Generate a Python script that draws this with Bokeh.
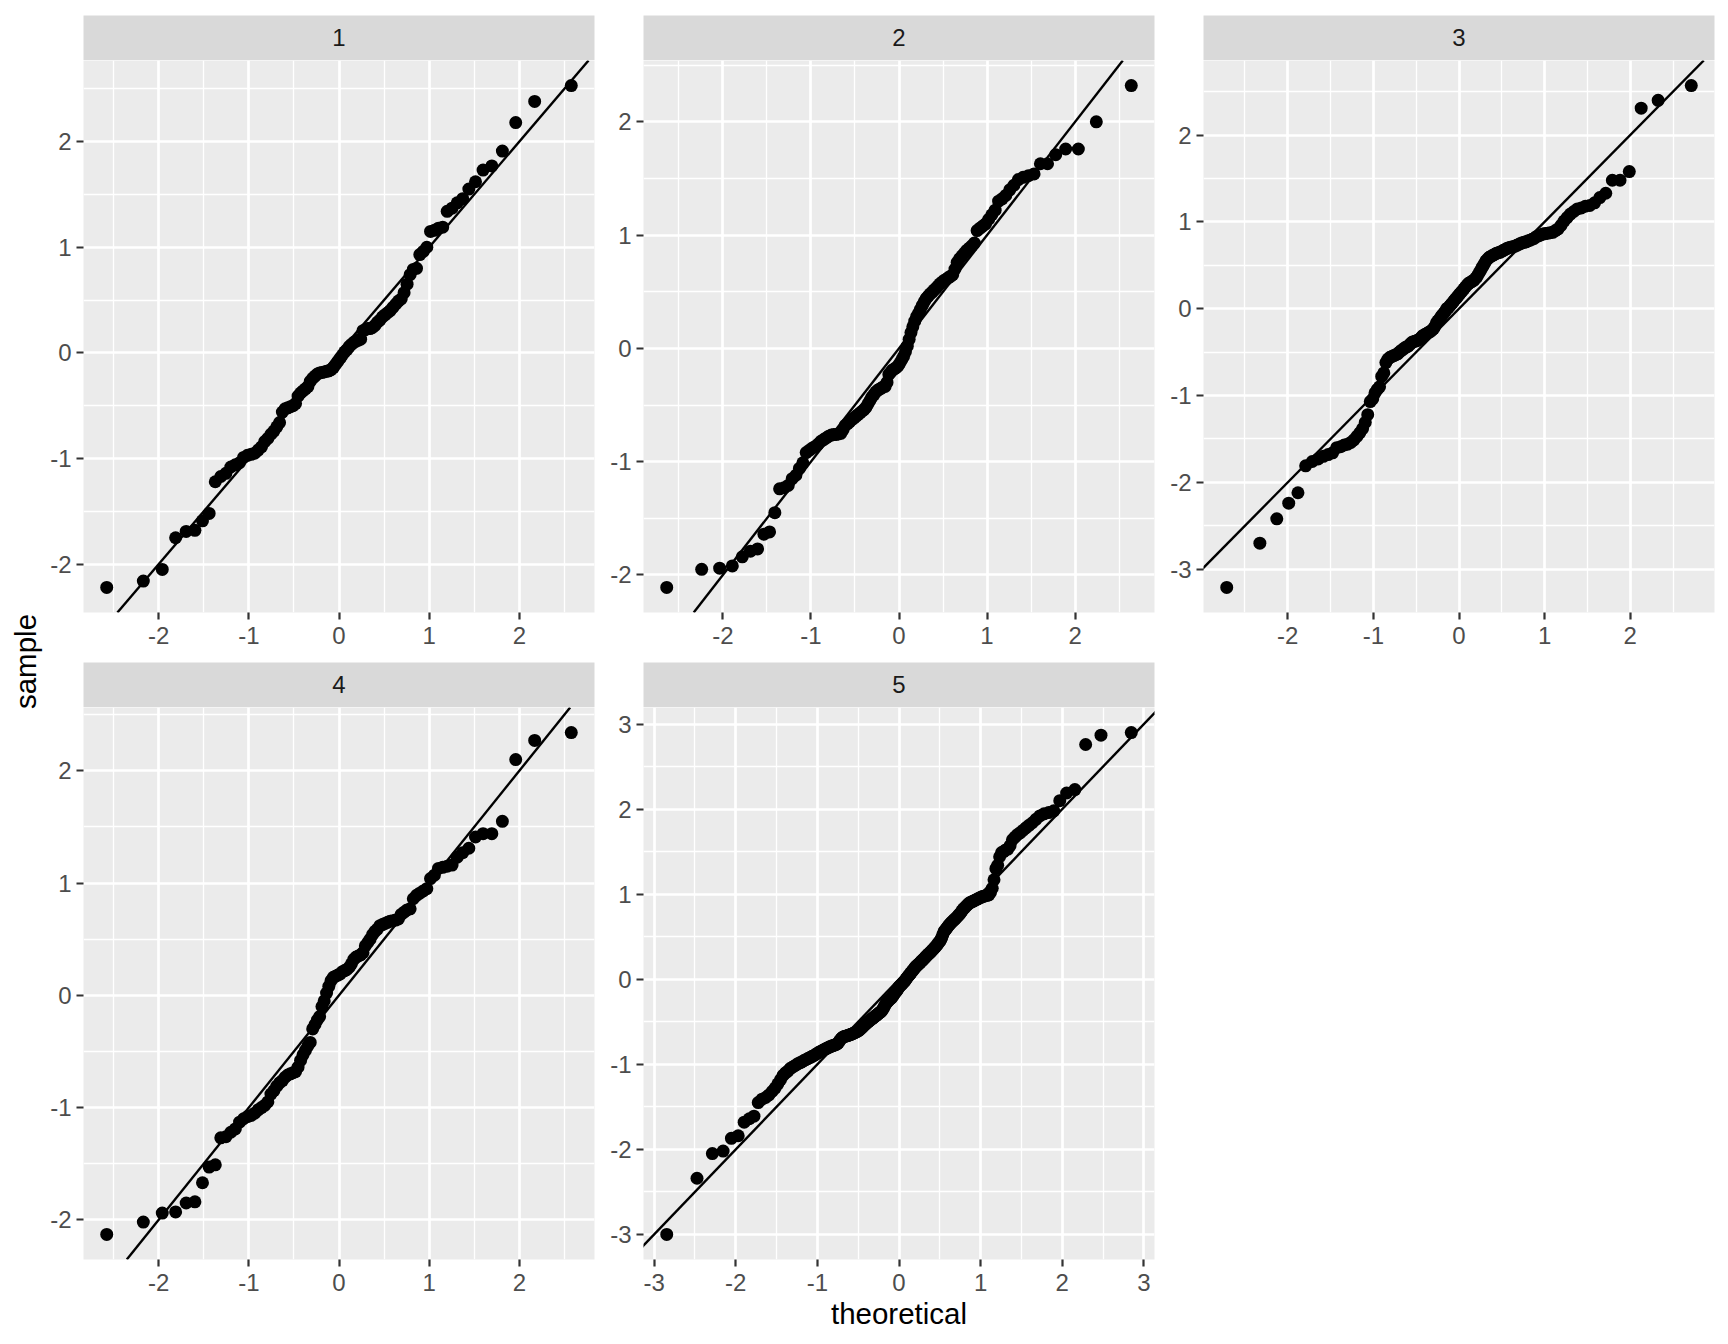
import math
from bokeh.plotting import figure
from bokeh.models import Range1d, FixedTicker, Slope
from bokeh.layouts import row, column
from bokeh.embed import file_html
from bokeh.resources import INLINE
from bokeh.core.properties import value

# ---------------- data ----------------
strip_labels = ["1", "2", "3", "4", "5"]
y_title = "sample"
x_title = "theoretical"

# reference line of each facet (slope, intercept)
qq_slope = [1.0, 1.0, 1.0, 1.0, 1.0]
qq_intercept = [0.0, 0.0, 0.0, 0.0, 0.0]

theo_1 = [-2.576, -2.170, -1.960, -1.812, -1.695, -1.598, -1.514, -1.440, -1.372, -1.311,
          -1.254, -1.200, -1.150, -1.103, -1.058, -1.015, -0.974, -0.935, -0.896, -0.860,
          -0.824, -0.789, -0.755, -0.722, -0.690, -0.659, -0.628, -0.598, -0.568, -0.539,
          -0.510, -0.482, -0.454, -0.426, -0.399, -0.372, -0.345, -0.319, -0.292, -0.266,
          -0.240, -0.215, -0.189, -0.164, -0.138, -0.113, -0.088, -0.063, -0.038, -0.013,
          0.013, 0.038, 0.063, 0.088, 0.113, 0.138, 0.164, 0.189, 0.215, 0.240,
          0.266, 0.292, 0.319, 0.345, 0.372, 0.399, 0.426, 0.454, 0.482, 0.510,
          0.539, 0.568, 0.598, 0.628, 0.659, 0.690, 0.722, 0.755, 0.789, 0.824,
          0.860, 0.896, 0.935, 0.974, 1.015, 1.058, 1.103, 1.150, 1.200, 1.254,
          1.311, 1.372, 1.440, 1.514, 1.598, 1.695, 1.812, 1.960, 2.170, 2.576]
sample_1 = [-2.22, -2.16, -2.05, -1.75, -1.69, -1.68, -1.59, -1.52, -1.22, -1.17,
            -1.14, -1.08, -1.06, -1.04, -0.99, -0.97, -0.96, -0.95, -0.92, -0.89,
            -0.84, -0.81, -0.77, -0.74, -0.70, -0.66, -0.56, -0.53, -0.52, -0.51,
            -0.50, -0.48, -0.41, -0.38, -0.36, -0.34, -0.32, -0.27, -0.24, -0.22,
            -0.20, -0.19, -0.185, -0.18, -0.175, -0.17, -0.16, -0.14, -0.11, -0.08,
            -0.05, -0.02, 0.01, 0.03, 0.06, 0.08, 0.10, 0.11, 0.12, 0.13,
            0.21, 0.22, 0.23, 0.23, 0.24, 0.26, 0.29, 0.31, 0.34, 0.36,
            0.38, 0.40, 0.43, 0.46, 0.49, 0.51, 0.57, 0.65, 0.74, 0.79,
            0.80, 0.93, 0.96, 1.00, 1.15, 1.16, 1.18, 1.19, 1.34, 1.37,
            1.42, 1.46, 1.55, 1.62, 1.73, 1.77, 1.91, 2.18, 2.38, 2.53]

theo_2 = [-2.638, -2.241, -2.037, -1.893, -1.780, -1.687, -1.606, -1.534, -1.470, -1.410,
          -1.356, -1.305, -1.258, -1.213, -1.171, -1.131, -1.092, -1.054, -1.019, -0.984,
          -0.951, -0.918, -0.887, -0.856, -0.827, -0.798, -0.769, -0.741, -0.714, -0.687,
          -0.661, -0.636, -0.610, -0.585, -0.561, -0.536, -0.512, -0.489, -0.466, -0.442,
          -0.420, -0.397, -0.375, -0.352, -0.330, -0.308, -0.286, -0.265, -0.243, -0.222,
          -0.200, -0.179, -0.157, -0.136, -0.115, -0.094, -0.073, -0.052, -0.031, -0.010,
          0.010, 0.031, 0.052, 0.073, 0.094, 0.115, 0.136, 0.157, 0.179, 0.200,
          0.222, 0.243, 0.265, 0.286, 0.308, 0.330, 0.352, 0.375, 0.397, 0.420,
          0.442, 0.466, 0.489, 0.512, 0.536, 0.561, 0.585, 0.610, 0.636, 0.661,
          0.687, 0.714, 0.741, 0.769, 0.798, 0.827, 0.856, 0.887, 0.918, 0.951,
          0.984, 1.019, 1.054, 1.092, 1.131, 1.171, 1.213, 1.258, 1.305, 1.356,
          1.410, 1.470, 1.534, 1.606, 1.687, 1.780, 1.893, 2.037, 2.241, 2.638]
sample_2 = [-2.11, -1.95, -1.94, -1.92, -1.84, -1.79, -1.77, -1.64, -1.62, -1.45,
            -1.24, -1.23, -1.21, -1.15, -1.12, -1.06, -1.01, -0.92, -0.90, -0.88,
            -0.865, -0.845, -0.82, -0.805, -0.79, -0.775, -0.765, -0.76, -0.76, -0.755,
            -0.75, -0.72, -0.68, -0.665, -0.65, -0.63, -0.615, -0.60, -0.585, -0.57,
            -0.555, -0.54, -0.52, -0.49, -0.46, -0.43, -0.41, -0.385, -0.37, -0.36,
            -0.35, -0.34, -0.335, -0.30, -0.23, -0.21, -0.19, -0.18, -0.17, -0.155,
            -0.13, -0.10, -0.07, -0.03, 0.02, 0.08, 0.14, 0.19, 0.24, 0.28,
            0.31, 0.345, 0.38, 0.41, 0.44, 0.46, 0.48, 0.495, 0.515, 0.53,
            0.55, 0.57, 0.585, 0.60, 0.61, 0.625, 0.635, 0.65, 0.70, 0.76,
            0.79, 0.815, 0.84, 0.865, 0.885, 0.905, 0.93, 1.04, 1.06, 1.08,
            1.10, 1.14, 1.18, 1.22, 1.30, 1.32, 1.35, 1.40, 1.44, 1.49,
            1.51, 1.525, 1.54, 1.63, 1.63, 1.71, 1.76, 1.76, 2.00, 2.32]

theo_3 = [-2.713, -2.326, -2.128, -1.989, -1.881, -1.791, -1.714, -1.645, -1.584, -1.528,
          -1.476, -1.428, -1.383, -1.341, -1.301, -1.263, -1.227, -1.192, -1.159, -1.126,
          -1.095, -1.066, -1.036, -1.008, -0.981, -0.954, -0.928, -0.903, -0.878, -0.854,
          -0.830, -0.806, -0.783, -0.761, -0.739, -0.717, -0.696, -0.674, -0.654, -0.633,
          -0.613, -0.593, -0.573, -0.553, -0.534, -0.515, -0.496, -0.477, -0.459, -0.440,
          -0.422, -0.404, -0.385, -0.367, -0.350, -0.332, -0.314, -0.297, -0.279, -0.262,
          -0.245, -0.228, -0.210, -0.193, -0.176, -0.160, -0.143, -0.126, -0.109, -0.092,
          -0.075, -0.059, -0.042, -0.025, -0.008,
          0.008, 0.025, 0.042, 0.059, 0.075, 0.092, 0.109, 0.126, 0.143, 0.160,
          0.176, 0.193, 0.210, 0.228, 0.245, 0.262, 0.279, 0.297, 0.314, 0.332,
          0.350, 0.367, 0.385, 0.404, 0.422, 0.440, 0.459, 0.477, 0.496, 0.515,
          0.534, 0.553, 0.573, 0.593, 0.613, 0.633, 0.654, 0.674, 0.696, 0.717,
          0.739, 0.761, 0.783, 0.806, 0.830, 0.854, 0.878, 0.903, 0.928, 0.954,
          0.981, 1.008, 1.036, 1.066, 1.095, 1.126, 1.159, 1.192, 1.227, 1.263,
          1.301, 1.341, 1.383, 1.428, 1.476, 1.528, 1.584, 1.645, 1.714, 1.791,
          1.881, 1.989, 2.128, 2.326, 2.713]
sample_3 = [-3.21, -2.70, -2.42, -2.24, -2.12, -1.81, -1.76, -1.73, -1.70, -1.68,
            -1.66, -1.60, -1.59, -1.57, -1.56, -1.54, -1.51, -1.47, -1.43, -1.38,
            -1.31, -1.22, -1.07, -1.04, -0.97, -0.93, -0.90, -0.78, -0.74, -0.62,
            -0.58, -0.56, -0.55, -0.54, -0.53, -0.52, -0.50, -0.48, -0.47, -0.45,
            -0.44, -0.43, -0.41, -0.39, -0.38, -0.375, -0.37, -0.36, -0.35, -0.33,
            -0.31, -0.30, -0.29, -0.28, -0.27, -0.26, -0.245, -0.23, -0.20, -0.16,
            -0.14, -0.12, -0.09, -0.07, -0.05, -0.03, 0.00, 0.01, 0.03, 0.05,
            0.07, 0.09, 0.11, 0.13, 0.15, 0.17, 0.19, 0.21, 0.23, 0.25,
            0.27, 0.29, 0.30, 0.31, 0.32, 0.33, 0.35, 0.37, 0.40, 0.43,
            0.46, 0.49, 0.52, 0.55, 0.57, 0.59, 0.60, 0.61, 0.62, 0.63,
            0.64, 0.645, 0.65, 0.66, 0.67, 0.68, 0.69, 0.70, 0.705, 0.71,
            0.715, 0.72, 0.73, 0.74, 0.75, 0.76, 0.765, 0.77, 0.78, 0.79,
            0.80, 0.81, 0.83, 0.84, 0.85, 0.86, 0.865, 0.87, 0.875, 0.88,
            0.90, 0.92, 0.96, 1.01, 1.05, 1.09, 1.12, 1.15, 1.16, 1.18,
            1.19, 1.22, 1.28, 1.33, 1.48, 1.48, 1.58, 2.31, 2.40, 2.57]

theo_4 = [-2.576, -2.170, -1.960, -1.812, -1.695, -1.598, -1.514, -1.440, -1.372, -1.311,
          -1.254, -1.200, -1.150, -1.103, -1.058, -1.015, -0.974, -0.935, -0.896, -0.860,
          -0.824, -0.789, -0.755, -0.722, -0.690, -0.659, -0.628, -0.598, -0.568, -0.539,
          -0.510, -0.482, -0.454, -0.426, -0.399, -0.372, -0.345, -0.319, -0.292, -0.266,
          -0.240, -0.215, -0.189, -0.164, -0.138, -0.113, -0.088, -0.063, -0.038, -0.013,
          0.013, 0.038, 0.063, 0.088, 0.113, 0.138, 0.164, 0.189, 0.215, 0.240,
          0.266, 0.292, 0.319, 0.345, 0.372, 0.399, 0.426, 0.454, 0.482, 0.510,
          0.539, 0.568, 0.598, 0.628, 0.659, 0.690, 0.722, 0.755, 0.789, 0.824,
          0.860, 0.896, 0.935, 0.974, 1.015, 1.058, 1.103, 1.150, 1.200, 1.254,
          1.311, 1.372, 1.440, 1.514, 1.598, 1.695, 1.812, 1.960, 2.170, 2.576]
sample_4 = [-2.13, -2.02, -1.94, -1.93, -1.85, -1.84, -1.67, -1.53, -1.51, -1.27,
            -1.26, -1.22, -1.19, -1.13, -1.10, -1.08, -1.07, -1.05, -1.02, -1.00,
            -0.98, -0.95, -0.88, -0.85, -0.81, -0.78, -0.76, -0.73, -0.71, -0.70,
            -0.69, -0.68, -0.64, -0.58, -0.53, -0.49, -0.45, -0.42, -0.30, -0.26,
            -0.22, -0.19, -0.10, -0.05, 0.02, 0.08, 0.13, 0.16, 0.17, 0.18,
            0.19, 0.21, 0.22, 0.23, 0.25, 0.28, 0.32, 0.34, 0.35, 0.36,
            0.38, 0.44, 0.47, 0.50, 0.54, 0.57, 0.59, 0.62, 0.63, 0.64,
            0.65, 0.66, 0.665, 0.67, 0.68, 0.72, 0.74, 0.76, 0.77, 0.86,
            0.89, 0.91, 0.93, 0.95, 1.04, 1.07, 1.13, 1.14, 1.15, 1.16,
            1.23, 1.27, 1.31, 1.41, 1.44, 1.44, 1.55, 2.10, 2.27, 2.34]

theo_5 = [-2.846, -2.475, -2.287, -2.155, -2.054, -1.970, -1.897, -1.834, -1.777, -1.725,
          -1.678, -1.634, -1.593, -1.555, -1.518, -1.484, -1.451, -1.420, -1.390, -1.361,
          -1.334, -1.307, -1.282, -1.257, -1.233, -1.209, -1.187, -1.164, -1.142, -1.121,
          -1.101, -1.080, -1.060, -1.041, -1.022, -1.003, -0.985, -0.967, -0.950, -0.932,
          -0.915, -0.898, -0.882, -0.866, -0.850, -0.834, -0.818, -0.803, -0.787, -0.772,
          -0.757, -0.742, -0.728, -0.714, -0.699, -0.685, -0.671, -0.657, -0.643, -0.629,
          -0.616, -0.602, -0.589, -0.576, -0.563, -0.550, -0.537, -0.524, -0.511, -0.499,
          -0.486, -0.474, -0.461, -0.449, -0.437, -0.424, -0.412, -0.400, -0.388, -0.376,
          -0.365, -0.353, -0.341, -0.329, -0.318, -0.305, -0.294, -0.282, -0.271, -0.259,
          -0.248, -0.236, -0.225, -0.214, -0.202, -0.191, -0.180, -0.168, -0.157, -0.146,
          -0.134, -0.123, -0.112, -0.100, -0.089, -0.078, -0.067, -0.056, -0.045, -0.033,
          -0.022, -0.011, 0.000, 0.011, 0.022, 0.033, 0.045, 0.056, 0.067, 0.078,
          0.089, 0.100, 0.112, 0.123, 0.134, 0.146, 0.157, 0.168, 0.180, 0.191,
          0.202, 0.214, 0.225, 0.236, 0.248, 0.259, 0.271, 0.282, 0.294, 0.305,
          0.318, 0.329, 0.341, 0.353, 0.365, 0.376, 0.388, 0.400, 0.412, 0.424,
          0.437, 0.449, 0.461, 0.474, 0.486, 0.499, 0.511, 0.524, 0.537, 0.550,
          0.563, 0.576, 0.589, 0.602, 0.616, 0.629, 0.643, 0.657, 0.671, 0.685,
          0.699, 0.714, 0.728, 0.742, 0.757, 0.772, 0.787, 0.803, 0.818, 0.834,
          0.850, 0.866, 0.882, 0.898, 0.915, 0.932, 0.950, 0.967, 0.985, 1.003,
          1.022, 1.041, 1.060, 1.080, 1.101, 1.121, 1.142, 1.164, 1.187, 1.209,
          1.233, 1.257, 1.282, 1.307, 1.334, 1.361, 1.390, 1.420, 1.451, 1.484,
          1.518, 1.555, 1.593, 1.634, 1.678, 1.725, 1.777, 1.834, 1.897, 1.970,
          2.054, 2.155, 2.287, 2.475, 2.846]
sample_5 = [-3.00, -2.34, -2.05, -2.02, -1.87, -1.84, -1.68, -1.64, -1.61, -1.45,
            -1.41, -1.39, -1.36, -1.32, -1.28, -1.23, -1.18, -1.13, -1.10, -1.08,
            -1.05, -1.035, -1.02, -1.005, -0.99, -0.98, -0.97, -0.955, -0.945, -0.935,
            -0.925, -0.915, -0.905, -0.895, -0.885, -0.872, -0.862, -0.852, -0.845, -0.835,
            -0.826, -0.818, -0.81, -0.803, -0.795, -0.79, -0.783, -0.778, -0.772, -0.766,
            -0.76, -0.745, -0.725, -0.705, -0.69, -0.678, -0.674, -0.67, -0.666, -0.662,
            -0.658, -0.652, -0.648, -0.644, -0.638, -0.632, -0.626, -0.62, -0.612, -0.605,
            -0.598, -0.588, -0.576, -0.564, -0.552, -0.54, -0.528, -0.518, -0.508, -0.50,
            -0.49, -0.48, -0.472, -0.463, -0.454, -0.445, -0.436, -0.427, -0.418, -0.41,
            -0.40, -0.392, -0.383, -0.374, -0.36, -0.34, -0.32, -0.30, -0.28, -0.27,
            -0.255, -0.245, -0.235, -0.225, -0.215, -0.20, -0.185, -0.17, -0.155, -0.14,
            -0.125, -0.11, -0.09, -0.08, -0.07, -0.06, -0.045, -0.035, -0.025, -0.01,
            0.005, 0.02, 0.035, 0.048, 0.06, 0.075, 0.09, 0.10, 0.115, 0.13,
            0.145, 0.155, 0.165, 0.175, 0.185, 0.195, 0.21, 0.22, 0.23, 0.24,
            0.255, 0.265, 0.277, 0.289, 0.30, 0.31, 0.32, 0.333, 0.345, 0.357,
            0.37, 0.382, 0.398, 0.413, 0.43, 0.445, 0.462, 0.49, 0.525, 0.556,
            0.575, 0.59, 0.605, 0.625, 0.64, 0.655, 0.668, 0.682, 0.695, 0.708,
            0.72, 0.735, 0.75, 0.765, 0.785, 0.805, 0.825, 0.84, 0.855, 0.87,
            0.887, 0.898, 0.905, 0.913, 0.92, 0.93, 0.938, 0.946, 0.955, 0.963,
            0.972, 0.977, 0.982, 0.987, 0.992, 1.02, 1.07, 1.17, 1.30, 1.34,
            1.44, 1.49, 1.50, 1.52, 1.53, 1.57, 1.64, 1.67, 1.70, 1.72,
            1.75, 1.78, 1.81, 1.84, 1.88, 1.92, 1.945, 1.96, 1.98, 2.10,
            2.19, 2.23, 2.76, 2.87, 2.90]

theo_all = [theo_1, theo_2, theo_3, theo_4, theo_5]
sample_all = [sample_1, sample_2, sample_3, sample_4, sample_5]

# ---------------- styling ----------------
FONT = "Liberation Sans"
PANEL_BG = "#EBEBEB"
STRIP_BG = "#D9D9D9"
TICK_TEXT = "#4D4D4D"
TICK_LINE = "#333333"
FRAME_W = 511
FRAME_H = 552
STRIP_H = 45
TOP_B = 15
MID_B = 50
BOT_B = 80
LABEL_W = 47


def expand(vals):
    lo, hi = min(vals), max(vals)
    pad = 0.05 * (hi - lo)
    return lo - pad, hi + pad


def ticks_for(lo, hi):
    major = list(range(math.ceil(lo), math.floor(hi) + 1))
    minor = [k + 0.5 for k in range(math.floor(lo) - 1, math.ceil(hi) + 1)
             if lo <= k + 0.5 <= hi]
    return major, minor


def style_axis(ax, major, minor, standoff):
    ax.ticker = FixedTicker(ticks=major, minor_ticks=minor)
    ax.major_label_overrides = {t: str(t) for t in major}
    ax.axis_line_color = None
    ax.major_tick_line_color = TICK_LINE
    ax.major_tick_line_width = 2.2
    ax.major_tick_out = 7
    ax.major_tick_in = 0
    ax.minor_tick_line_color = None
    ax.major_label_text_font = FONT
    ax.major_label_text_font_size = "24px"
    ax.major_label_text_color = TICK_TEXT
    ax.major_label_standoff = standoff


def make_strip(label, left_b, right_b, top_b):
    s = figure(frame_width=FRAME_W, frame_height=STRIP_H,
               x_range=Range1d(0, 1), y_range=Range1d(0, 1),
               x_axis_type=None, y_axis_type=None,
               output_backend="svg", toolbar_location=None, title=None,
               min_border_left=left_b, min_border_right=right_b,
               min_border_top=top_b, min_border_bottom=0)
    s.background_fill_color = STRIP_BG
    s.border_fill_color = "white"
    s.outline_line_color = None
    s.text(x=[0.5], y=[0.52], text=[label], text_align="center",
           text_baseline="middle", text_font=value(FONT),
           text_font_size="24px", text_color="#1A1A1A")
    return s


def make_panel(k, left_b, right_b, bottom_b, xlabel=None):
    xs, ys = theo_all[k], sample_all[k]
    x0, x1 = expand(xs)
    y0, y1 = expand(ys)
    p = figure(frame_width=FRAME_W, frame_height=FRAME_H,
               x_range=Range1d(x0, x1), y_range=Range1d(y0, y1),
               output_backend="svg", toolbar_location=None, title=None,
               min_border_left=left_b, min_border_right=right_b,
               min_border_top=0, min_border_bottom=bottom_b)
    p.background_fill_color = PANEL_BG
    p.border_fill_color = "white"
    p.outline_line_color = None
    xm, xn = ticks_for(x0, x1)
    ym, yn = ticks_for(y0, y1)
    style_axis(p.xaxis[0], xm, xn, 7)
    style_axis(p.yaxis[0], ym, yn, 5)
    for g in (p.xgrid[0], p.ygrid[0]):
        g.grid_line_color = "white"
        g.grid_line_width = 2.7
        g.minor_grid_line_color = "white"
        g.minor_grid_line_width = 1.35
    if xlabel:
        p.xaxis.axis_label = xlabel
        p.xaxis.axis_label_text_font = FONT
        p.xaxis.axis_label_text_font_size = "29.5px"
        p.xaxis.axis_label_text_font_style = "normal"
        p.xaxis.axis_label_text_color = "black"
        p.xaxis.axis_label_standoff = 3
    p.scatter(xs, ys, size=13, fill_color="black", line_color=None)
    p.add_layout(Slope(gradient=qq_slope[k], y_intercept=qq_intercept[k],
                       line_color="black", line_width=2.4))
    return p


def facet(k, left_b, right_b, top_b, bottom_b, xlabel=None):
    return column(make_strip(strip_labels[k], left_b, right_b, top_b),
                  make_panel(k, left_b, right_b, bottom_b, xlabel))


TOTAL_H = TOP_B + STRIP_H + FRAME_H + MID_B + STRIP_H + FRAME_H + BOT_B
lab = figure(width=LABEL_W, height=TOTAL_H, x_range=Range1d(0, LABEL_W),
             y_range=Range1d(0, TOTAL_H), x_axis_type=None, y_axis_type=None,
             output_backend="svg", toolbar_location=None, title=None,
             min_border=0)
lab.outline_line_color = None
lab.background_fill_color = "white"
lab.border_fill_color = "white"
lab.text(x=[25], y=[TOTAL_H - 661], text=[y_title], angle=math.pi / 2,
         text_align="center", text_baseline="middle",
         text_font=value(FONT), text_font_size="29.5px", text_color="black")

row1 = row(facet(0, 36, 9, TOP_B, MID_B), facet(1, 40, 9, TOP_B, MID_B),
           facet(2, 40, 10, TOP_B, MID_B))
row2 = row(facet(3, 36, 9, 0, BOT_B), facet(4, 40, 9, 0, BOT_B, x_title))
layout = row(lab, column(row1, row2))

open("out.html", "w").write(file_html(layout, INLINE, title="qq facets"))
